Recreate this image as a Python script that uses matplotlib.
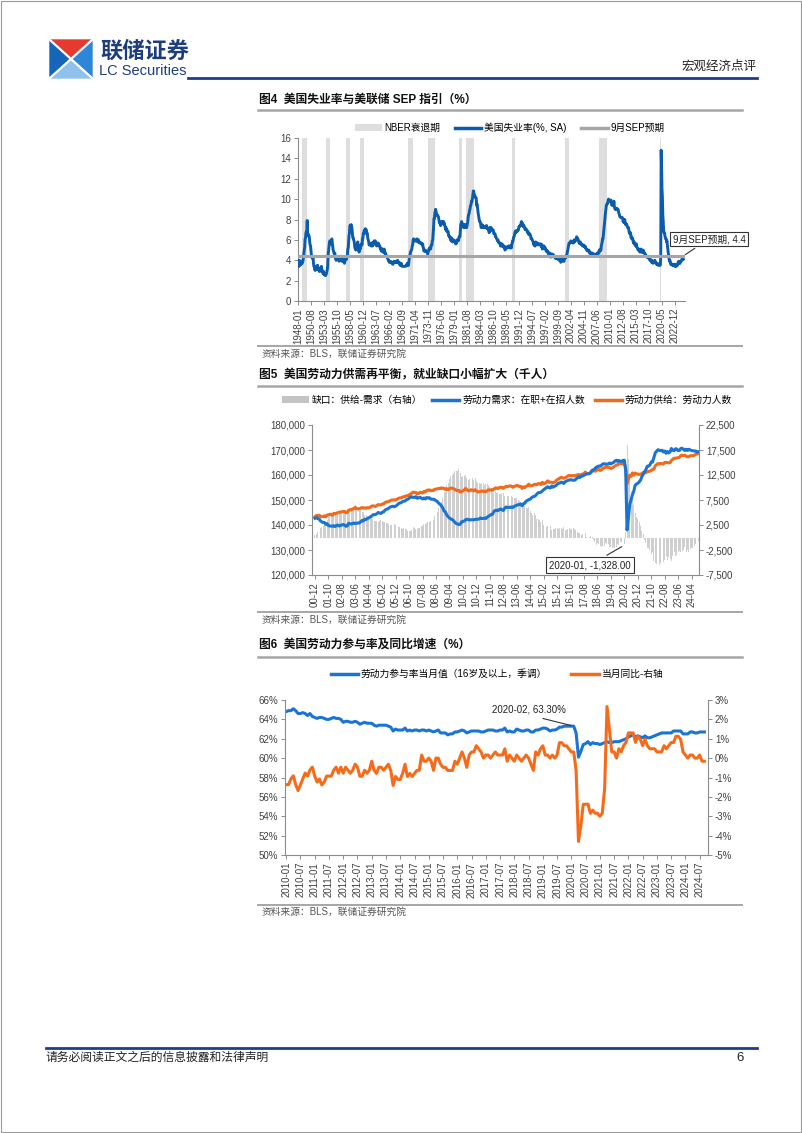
import matplotlib
matplotlib.use("Agg")
import matplotlib.pyplot as plt
from matplotlib.patches import Polygon, Patch, Rectangle
from matplotlib.lines import Line2D
from matplotlib.ticker import FuncFormatter
import numpy as np

plt.rcParams['font.family'] = ['Liberation Sans', 'Noto Sans CJK SC', 'DejaVu Sans']
plt.rcParams['axes.unicode_minus'] = False

# ---------------- data ----------------
# 图4: US unemployment rate, monthly, 1948-01 .. 2024-09 (%)
unrate_start = "1948-01"
unemployment_rate = [
    3.4, 3.8, 4.0, 3.9, 3.5, 3.6, 3.6, 3.9, 3.8, 3.7, 3.8, 4.0,   # 1948
    4.3, 4.7, 5.0, 5.3, 6.1, 6.2, 6.7, 6.8, 6.6, 7.9, 6.4, 6.6,   # 1949
    6.5, 6.4, 6.3, 5.8, 5.5, 5.4, 5.0, 4.5, 4.4, 4.2, 4.2, 4.3,   # 1950
    3.7, 3.4, 3.4, 3.1, 3.0, 3.2, 3.1, 3.1, 3.3, 3.5, 3.5, 3.1,   # 1951
    3.2, 3.1, 2.9, 2.9, 3.0, 3.0, 3.2, 3.4, 3.1, 3.0, 2.8, 2.7,   # 1952
    2.9, 2.6, 2.6, 2.7, 2.5, 2.5, 2.6, 2.7, 2.9, 3.1, 3.5, 4.5,   # 1953
    4.9, 5.2, 5.7, 5.9, 5.9, 5.6, 5.8, 6.0, 6.1, 5.7, 5.3, 5.0,   # 1954
    4.9, 4.7, 4.6, 4.7, 4.3, 4.2, 4.0, 4.2, 4.1, 4.3, 4.2, 4.2,   # 1955
    4.0, 3.9, 4.2, 4.0, 4.3, 4.3, 4.4, 4.1, 3.9, 3.9, 4.3, 4.2,   # 1956
    4.2, 3.9, 3.7, 3.9, 4.1, 4.3, 4.2, 4.1, 4.4, 4.5, 5.1, 5.2,   # 1957
    5.8, 6.4, 6.7, 7.4, 7.4, 7.3, 7.5, 7.4, 7.1, 6.7, 6.2, 6.2,   # 1958
    6.0, 5.9, 5.6, 5.2, 5.1, 5.0, 5.1, 5.2, 5.5, 5.7, 5.8, 5.3,   # 1959
    5.2, 4.8, 5.4, 5.2, 5.1, 5.4, 5.5, 5.6, 5.5, 6.1, 6.1, 6.6,   # 1960
    6.6, 6.9, 6.9, 7.0, 7.1, 6.9, 7.0, 6.6, 6.7, 6.5, 6.1, 6.0,   # 1961
    5.8, 5.5, 5.6, 5.6, 5.5, 5.5, 5.4, 5.7, 5.6, 5.4, 5.7, 5.5,   # 1962
    5.7, 5.9, 5.7, 5.7, 5.9, 5.6, 5.6, 5.4, 5.5, 5.5, 5.7, 5.5,   # 1963
    5.6, 5.4, 5.4, 5.3, 5.1, 5.2, 4.9, 5.0, 5.1, 5.1, 4.8, 5.0,   # 1964
    4.9, 5.1, 4.7, 4.8, 4.6, 4.6, 4.4, 4.4, 4.3, 4.2, 4.1, 4.0,   # 1965
    4.0, 3.8, 3.8, 3.8, 3.9, 3.8, 3.8, 3.8, 3.7, 3.7, 3.6, 3.8,   # 1966
    3.9, 3.8, 3.8, 3.8, 3.8, 3.9, 3.8, 3.8, 3.8, 4.0, 3.9, 3.8,   # 1967
    3.7, 3.8, 3.7, 3.5, 3.5, 3.7, 3.7, 3.5, 3.4, 3.4, 3.4, 3.4,   # 1968
    3.4, 3.4, 3.4, 3.4, 3.4, 3.5, 3.5, 3.5, 3.7, 3.7, 3.5, 3.5,   # 1969
    3.9, 4.2, 4.4, 4.6, 4.8, 4.9, 5.0, 5.1, 5.4, 5.5, 5.9, 6.1,   # 1970
    5.9, 5.9, 6.0, 5.9, 5.9, 5.9, 6.0, 6.1, 6.0, 5.8, 6.0, 6.0,   # 1971
    5.8, 5.7, 5.8, 5.7, 5.7, 5.7, 5.6, 5.6, 5.5, 5.6, 5.3, 5.2,   # 1972
    4.9, 5.0, 4.9, 5.0, 4.9, 4.9, 4.8, 4.8, 4.8, 4.6, 4.8, 4.9,   # 1973
    5.1, 5.2, 5.1, 5.1, 5.1, 5.4, 5.5, 5.5, 5.9, 6.0, 6.6, 7.2,   # 1974
    8.1, 8.1, 8.6, 8.8, 9.0, 8.8, 8.6, 8.4, 8.4, 8.4, 8.3, 8.2,   # 1975
    7.9, 7.7, 7.6, 7.7, 7.4, 7.6, 7.8, 7.8, 7.6, 7.7, 7.8, 7.8,   # 1976
    7.5, 7.6, 7.4, 7.2, 7.0, 7.2, 6.9, 7.0, 6.8, 6.8, 6.8, 6.4,   # 1977
    6.4, 6.3, 6.3, 6.1, 6.0, 5.9, 6.2, 5.9, 6.0, 5.8, 5.9, 6.0,   # 1978
    5.9, 5.9, 5.8, 5.8, 5.6, 5.7, 5.7, 6.0, 5.9, 6.0, 5.9, 6.0,   # 1979
    6.3, 6.3, 6.3, 6.9, 7.5, 7.6, 7.8, 7.7, 7.5, 7.5, 7.5, 7.2,   # 1980
    7.5, 7.4, 7.4, 7.2, 7.5, 7.5, 7.2, 7.4, 7.6, 7.9, 8.3, 8.5,   # 1981
    8.6, 8.9, 9.0, 9.3, 9.4, 9.6, 9.8, 9.8, 10.1, 10.4, 10.8, 10.8,  # 1982
    10.4, 10.4, 10.3, 10.2, 10.1, 10.1, 9.4, 9.5, 9.2, 8.8, 8.5, 8.3,  # 1983
    8.0, 7.8, 7.8, 7.7, 7.4, 7.2, 7.5, 7.5, 7.3, 7.4, 7.2, 7.3,   # 1984
    7.3, 7.2, 7.2, 7.3, 7.2, 7.4, 7.4, 7.1, 7.1, 7.1, 7.0, 7.0,   # 1985
    6.7, 7.2, 7.2, 7.1, 7.2, 7.2, 7.0, 6.9, 7.0, 7.0, 6.9, 6.6,   # 1986
    6.6, 6.6, 6.6, 6.3, 6.3, 6.2, 6.1, 6.0, 5.9, 6.0, 5.8, 5.7,   # 1987
    5.7, 5.7, 5.7, 5.4, 5.6, 5.4, 5.4, 5.6, 5.4, 5.4, 5.3, 5.3,   # 1988
    5.4, 5.2, 5.0, 5.2, 5.2, 5.3, 5.2, 5.2, 5.3, 5.3, 5.4, 5.4,   # 1989
    5.4, 5.3, 5.2, 5.4, 5.4, 5.2, 5.5, 5.7, 5.9, 5.9, 6.2, 6.3,   # 1990
    6.4, 6.6, 6.8, 6.7, 6.9, 6.9, 6.8, 6.9, 6.9, 7.0, 7.0, 7.3,   # 1991
    7.3, 7.4, 7.4, 7.4, 7.6, 7.8, 7.7, 7.6, 7.6, 7.3, 7.4, 7.4,   # 1992
    7.3, 7.1, 7.0, 7.1, 7.1, 7.0, 6.9, 6.8, 6.7, 6.8, 6.6, 6.5,   # 1993
    6.6, 6.6, 6.5, 6.4, 6.1, 6.1, 6.1, 6.0, 5.9, 5.8, 5.6, 5.5,   # 1994
    5.6, 5.4, 5.4, 5.8, 5.6, 5.6, 5.7, 5.7, 5.6, 5.5, 5.6, 5.6,   # 1995
    5.6, 5.5, 5.5, 5.6, 5.6, 5.3, 5.5, 5.1, 5.2, 5.2, 5.4, 5.4,   # 1996
    5.3, 5.2, 5.2, 5.1, 4.9, 5.0, 4.9, 4.8, 4.9, 4.7, 4.6, 4.7,   # 1997
    4.6, 4.6, 4.7, 4.3, 4.4, 4.5, 4.5, 4.5, 4.6, 4.5, 4.4, 4.4,   # 1998
    4.3, 4.4, 4.2, 4.3, 4.2, 4.3, 4.3, 4.2, 4.2, 4.1, 4.1, 4.0,   # 1999
    4.0, 4.1, 4.0, 3.8, 4.0, 4.0, 4.0, 4.1, 3.9, 3.9, 3.9, 3.9,   # 2000
    4.2, 4.2, 4.3, 4.4, 4.3, 4.5, 4.6, 4.9, 5.0, 5.3, 5.5, 5.7,   # 2001
    5.7, 5.7, 5.7, 5.9, 5.8, 5.8, 5.8, 5.7, 5.7, 5.7, 5.9, 6.0,   # 2002
    5.8, 5.9, 5.9, 6.0, 6.1, 6.3, 6.2, 6.1, 6.1, 6.0, 5.8, 5.7,   # 2003
    5.7, 5.6, 5.8, 5.6, 5.6, 5.6, 5.5, 5.4, 5.4, 5.5, 5.4, 5.4,   # 2004
    5.3, 5.4, 5.2, 5.2, 5.1, 5.0, 5.0, 4.9, 5.0, 5.0, 5.0, 4.9,   # 2005
    4.7, 4.8, 4.7, 4.7, 4.6, 4.6, 4.7, 4.7, 4.5, 4.4, 4.5, 4.4,   # 2006
    4.6, 4.5, 4.4, 4.5, 4.4, 4.6, 4.7, 4.6, 4.7, 4.7, 4.7, 5.0,   # 2007
    5.0, 4.9, 5.1, 5.0, 5.4, 5.6, 5.8, 6.1, 6.1, 6.5, 6.8, 7.3,   # 2008
    7.8, 8.3, 8.7, 9.0, 9.4, 9.5, 9.5, 9.6, 9.8, 10.0, 9.9, 9.9,  # 2009
    9.8, 9.8, 9.9, 9.9, 9.6, 9.4, 9.4, 9.5, 9.5, 9.4, 9.8, 9.3,   # 2010
    9.1, 9.0, 9.0, 9.1, 9.0, 9.1, 9.0, 9.0, 9.0, 8.8, 8.6, 8.5,   # 2011
    8.3, 8.3, 8.2, 8.2, 8.2, 8.2, 8.2, 8.1, 7.8, 7.8, 7.7, 7.9,   # 2012
    8.0, 7.7, 7.5, 7.6, 7.5, 7.5, 7.3, 7.2, 7.2, 7.2, 6.9, 6.7,   # 2013
    6.6, 6.7, 6.7, 6.2, 6.3, 6.1, 6.2, 6.1, 5.9, 5.7, 5.8, 5.6,   # 2014
    5.7, 5.5, 5.4, 5.4, 5.6, 5.3, 5.2, 5.1, 5.0, 5.0, 5.1, 5.0,   # 2015
    4.8, 4.9, 5.0, 5.1, 4.8, 4.9, 4.8, 4.9, 5.0, 4.9, 4.7, 4.7,   # 2016
    4.7, 4.6, 4.4, 4.4, 4.4, 4.3, 4.3, 4.4, 4.3, 4.2, 4.2, 4.1,   # 2017
    4.0, 4.1, 4.0, 4.0, 3.8, 4.0, 3.8, 3.8, 3.7, 3.8, 3.8, 3.9,   # 2018
    4.0, 3.8, 3.8, 3.7, 3.6, 3.6, 3.7, 3.6, 3.5, 3.6, 3.6, 3.6,   # 2019
    3.5, 3.5, 4.4, 14.8, 13.2, 11.0, 10.2, 8.4, 7.8, 6.8, 6.7, 6.7,  # 2020
    6.4, 6.2, 6.1, 6.1, 5.8, 5.9, 5.4, 5.1, 4.7, 4.5, 4.1, 3.9,   # 2021
    4.0, 3.8, 3.6, 3.7, 3.6, 3.6, 3.5, 3.6, 3.5, 3.6, 3.6, 3.5,   # 2022
    3.4, 3.6, 3.5, 3.4, 3.6, 3.6, 3.5, 3.7, 3.8, 3.9, 3.7, 3.8,   # 2023
    3.7, 3.9, 3.9, 3.9, 4.0, 4.1, 4.3, 4.2, 4.1,                  # 2024
]
sep_projection = 4.4
nber_recessions = [
    ("1948-11", "1949-10"), ("1953-07", "1954-05"), ("1957-08", "1958-04"),
    ("1960-04", "1961-02"), ("1969-12", "1970-11"), ("1973-11", "1975-03"),
    ("1980-01", "1980-07"), ("1981-07", "1982-11"), ("1990-07", "1991-03"),
    ("2001-03", "2001-11"), ("2007-12", "2009-06"), ("2020-02", "2020-04"),
]

# 图5: labour supply (labour force) and demand (employed + openings), thousands, 2000-12 .. 2024-09
lab_start = "2000-12"
labor_supply = [
    143248,
    143800, 143701, 143924, 143569, 143318, 143357, 143654, 143284, 143989, 144086, 144240, 144305,
    143883, 144653, 144481, 144725, 144938, 145081, 145139, 145237, 145459, 145364, 144919, 145005,
    145937, 146100, 146022, 146474, 146500, 147056, 146485, 146445, 146530, 146716, 147000, 146729,
    146842, 146709, 146944, 146850, 147065, 147460, 147692, 147564, 147415, 147793, 148162, 148059,
    148029, 148364, 148391, 148926, 149261, 149238, 149432, 149779, 149954, 150001, 150065, 150030,
    150214, 150641, 150813, 150881, 151069, 151354, 151377, 151716, 151662, 152041, 152406, 152732,
    153144, 152983, 153051, 152435, 152670, 153041, 153054, 152749, 153414, 153183, 153835, 153918,
    154063, 153653, 153908, 153769, 154303, 154313, 154469, 154641, 154570, 154876, 154639, 154655,
    154210, 154538, 154133, 154509, 154747, 154716, 154502, 154307, 153827, 153784, 153878, 153111,
    153404, 153720, 153964, 154642, 154106, 153631, 153706, 154087, 153971, 153631, 154127, 153639,
    153198, 153280, 153403, 153566, 153526, 153379, 153309, 153724, 154059, 153940, 154072, 153927,
    154328, 154826, 154811, 154565, 154946, 155134, 154970, 154669, 155018, 155507, 155279, 155485,
    155699, 155511, 155099, 155359, 155609, 155822, 155693, 155435, 155473, 154625, 155284, 154937,
    155460, 155724, 156316, 155664, 155755, 155822, 156273, 156233, 156134, 156571, 156515, 156197,
    157030, 156644, 156643, 157060, 157651, 157062, 157140, 157101, 156849, 157107, 157502, 158080,
    158371, 158705, 159079, 158891, 158700, 158899, 159150, 159582, 159810, 159768, 159629, 159779,
    159693, 159854, 160036, 160169, 159910, 160124, 160383, 160616, 161190, 160436, 160626, 160636,
    161123, 161900, 161646, 161551, 161667, 162129, 162209, 161802, 162055, 162694, 162821, 163240,
    163083, 163022, 162983, 162555, 162789, 163163, 163560, 163962, 164033, 164399, 164578, 164455,
    164500, 164546, 162913, 156481, 158227, 159932, 159479, 160838, 159926, 160797, 160447, 160357,
    160249, 160274, 160592, 160992, 160839, 160976, 161309, 161426, 161529, 161832, 162279, 162345,
    163720, 164113, 164579, 164400, 164671, 164529, 164373, 165034, 165017, 164976, 164882, 164931,
    165832, 166251, 166703, 166714, 166807, 166951, 167082, 167782, 167968, 167714, 167902, 167469,
    167276, 167334, 167736, 167725, 167678, 167916, 168251, 168483, 168590,
]
labor_demand = [
    142700,
    143000, 142600, 142500, 141700, 141300, 141000, 141000, 140300, 140500, 139800, 139600, 139600,
    139500, 139700, 139400, 139800, 140000, 139600, 139800, 140000, 140200, 139900, 139500, 139600,
    140700, 140500, 140400, 140600, 140800, 140600, 140700, 140800, 140800, 141300, 141800, 141600,
    142300, 142200, 142600, 142800, 143200, 143500, 144000, 144200, 144200, 144500, 145000, 144800,
    144600, 145100, 145200, 145900, 146300, 146400, 146800, 147200, 147400, 147500, 147300, 147600,
    147900, 148500, 148800, 148900, 149300, 149500, 149600, 150100, 150300, 150700, 151100, 151300,
    151000, 151100, 151300, 150700, 150800, 151100, 150800, 150400, 150800, 150400, 151000, 150800,
    150900, 150400, 150300, 150300, 150100, 149700, 149400, 148700, 148300, 147700, 146800, 145600,
    145200, 144000, 143300, 142800, 142400, 142200, 141700, 141100, 140600, 140400, 140200, 140300,
    141300, 141400, 141600, 142100, 142300, 142200, 142000, 142100, 142100, 142100, 142200, 142300,
    142300, 142400, 142800, 142600, 142600, 142800, 142600, 143100, 143500, 143800, 144200, 144300,
    145400, 145800, 145900, 145700, 146200, 146400, 146100, 145800, 146700, 147200, 147000, 147100,
    147000, 147200, 147000, 147400, 147700, 147900, 148100, 148200, 148400, 147700, 148500, 148700,
    149600, 149800, 150200, 150300, 150900, 151300, 151400, 151800, 152400, 152900, 153000, 153100,
    153600, 154100, 154500, 154900, 155300, 155000, 154800, 155600, 155100, 155500, 155700, 156200,
    156700, 156800, 157100, 157100, 156600, 157300, 157600, 157800, 158000, 158100, 158000, 157900,
    157900, 158300, 158900, 159200, 159000, 159600, 159600, 159900, 160200, 160400, 160500, 160500,
    160900, 161700, 162100, 162400, 163100, 163300, 163600, 163500, 163900, 164400, 164500, 164400,
    164300, 164400, 164800, 164400, 164800, 165000, 165600, 165900, 165400, 165800, 165500, 165400,
    165828, 165900, 161800, 138000, 142600, 148200, 150200, 152100, 153500, 155800, 156400, 156700,
    157200, 157900, 159300, 160300, 161300, 162100, 163500, 163600, 164000, 165200, 165200, 167000,
    168900, 169500, 170100, 169900, 169700, 169900, 169200, 169600, 168700, 169400, 168800, 169300,
    170600, 169900, 169700, 170500, 170400, 169800, 169800, 170600, 170700, 170200, 169800, 170300,
    169800, 170300, 170000, 169800, 169700, 169600, 169600, 169200, 169300,
]

# 图6: labour force participation rate (16+, SA), %, 2010-01 .. 2024-09; 2009 as year-ago base
lfpr_start = "2010-01"
participation_2009 = [65.7, 65.8, 65.6, 65.7, 65.8, 65.7, 65.5, 65.4, 65.1, 65.0, 65.0, 64.6]
participation = [
    64.8, 64.9, 64.9, 65.1, 64.9, 64.6, 64.6, 64.7, 64.6, 64.4, 64.6, 64.3,   # 2010
    64.2, 64.1, 64.2, 64.2, 64.1, 64.0, 64.0, 64.1, 64.2, 64.1, 64.1, 64.0,   # 2011
    63.7, 63.8, 63.8, 63.7, 63.7, 63.8, 63.7, 63.5, 63.6, 63.7, 63.6, 63.6,   # 2012
    63.6, 63.4, 63.3, 63.4, 63.4, 63.4, 63.4, 63.3, 63.2, 62.8, 63.0, 62.9,   # 2013
    62.9, 62.9, 63.1, 62.8, 62.9, 62.8, 62.9, 62.9, 62.8, 62.9, 62.9, 62.8,   # 2014
    62.9, 62.8, 62.7, 62.8, 62.9, 62.6, 62.6, 62.6, 62.4, 62.5, 62.5, 62.7,   # 2015
    62.7, 62.8, 62.9, 62.8, 62.6, 62.7, 62.8, 62.8, 62.8, 62.8, 62.7, 62.7,   # 2016
    62.8, 62.9, 62.9, 62.9, 62.8, 62.8, 62.9, 62.9, 63.1, 62.7, 62.8, 62.7,   # 2017
    62.7, 63.0, 62.9, 62.8, 62.8, 62.9, 62.9, 62.7, 62.7, 62.9, 62.9, 63.0,   # 2018
    63.1, 63.1, 63.0, 62.8, 62.9, 62.9, 63.0, 63.2, 63.2, 63.3, 63.3, 63.3,   # 2019
    63.3, 63.3, 62.6, 60.1, 60.7, 61.4, 61.5, 61.7, 61.4, 61.6, 61.5, 61.5,   # 2020
    61.4, 61.5, 61.6, 61.7, 61.6, 61.6, 61.7, 61.7, 61.7, 61.8, 61.9, 62.0,   # 2021
    62.2, 62.3, 62.4, 62.2, 62.3, 62.2, 62.1, 62.3, 62.1, 62.1, 62.2, 62.3,   # 2022
    62.4, 62.5, 62.6, 62.6, 62.6, 62.6, 62.6, 62.8, 62.8, 62.8, 62.8, 62.5,   # 2023
    62.5, 62.5, 62.7, 62.7, 62.6, 62.6, 62.7, 62.7, 62.7,                     # 2024
]

# ---------------- helpers ----------------
W, H = 802, 1133
TICK_C = '#404040'
SPINE_C = '#8c8c8c'


def month_offset(s, start):
    y, m = map(int, s.split('-'))
    y0, m0 = map(int, start.split('-'))
    return (y - y0) * 12 + (m - m0)


def month_labels(start, n, short=False):
    y0, m0 = map(int, start.split('-'))
    out = []
    for i in range(n):
        y = y0 + (m0 - 1 + i) // 12
        m = (m0 - 1 + i) % 12 + 1
        out.append(f"{y % 100:02d}-{m:02d}" if short else f"{y}-{m:02d}")
    return out


def px_axes(l, t, r, b):
    return fig.add_axes([l / W, 1 - b / H, (r - l) / W, (b - t) / H])


def style(ax, spines=('left', 'bottom')):
    for s in ax.spines:
        ax.spines[s].set_visible(s in spines)
        ax.spines[s].set_color(SPINE_C)
        ax.spines[s].set_linewidth(0.8)
    ax.tick_params(direction='out', length=3, width=0.7, color=SPINE_C,
                   labelsize=7, labelcolor=TICK_C, pad=2)


fig = plt.figure(figsize=(W / 100, H / 100), dpi=100)

# page layer in pixel coordinates
page = fig.add_axes([0, 0, 1, 1])
page.set_xlim(0, W)
page.set_ylim(H, 0)
page.axis('off')
page.add_patch(Rectangle((0.5, 0.5), W - 1.5, H - 1.5, fill=False, ec='#9a9a9a', lw=0.8))

# logo
cx, cy = 71, 59
page.add_patch(Polygon([(50, 40), (92, 40), (cx, cy)], color='#e63a2e'))
page.add_patch(Polygon([(50, 40), (cx, cy), (50, 78)], color='#1565b8'))
page.add_patch(Polygon([(92, 40), (92, 78), (cx, cy)], color='#2e86d6'))
page.add_patch(Polygon([(50, 78), (92, 78), (cx, cy)], color='#8fc1ea'))
page.plot([50, 92], [40, 78], color='white', lw=1.6)
page.plot([92, 50], [40, 78], color='white', lw=1.6)
page.text(100, 52, '联储证券', fontsize=16, fontweight='bold', color='#1d3d7d',
          ha='left', va='center')
page.text(99, 71, 'LC Securities', fontsize=10.5, color='#1d3d7d', ha='left', va='center',
          family=['Liberation Sans Narrow', 'Liberation Sans'])
page.plot([188, 757], [77.5, 77.5], color='#1f3d8c', lw=2)
page.text(757, 67, '宏观经济点评', fontsize=9, color='#222222', ha='right', va='center')

# footer
page.plot([46, 757], [1048, 1048], color='#1f3d8c', lw=2)
page.text(46, 1058, '请务必阅读正文之后的信息披露和法律声明', fontsize=8.5, color='#222222',
          ha='left', va='center')
page.text(740, 1058, '6', fontsize=9.5, color='#222222', ha='center', va='center')

# titles, separators, sources
for ty, ly, title in [(100, 110, '图4  美国失业率与美联储 SEP 指引（%）'),
                      (375, 386, '图5  美国劳动力供需再平衡，就业缺口小幅扩大（千人）'),
                      (645, 657, '图6  美国劳动力参与率及同比增速（%）')]:
    page.text(259, ty, title, fontsize=8.5, fontweight='bold', color='#111111',
              ha='left', va='center')
    page.plot([258, 742], [ly, ly], color='#a6a6a6', lw=1.8)
for ly, sy in [(346, 354), (612, 620), (905, 912)]:
    page.plot([258, 742], [ly, ly], color='#a6a6a6', lw=1.4)
    page.text(262, sy, '资料来源：BLS，联储证券研究院', fontsize=7, color='#555555',
              ha='left', va='center')

# ---------------- chart 1 ----------------
ur = np.array(unemployment_rate)
x1 = np.arange(len(ur))
rec = np.zeros(len(ur))
for a, b in nber_recessions:
    rec[month_offset(a, unrate_start):month_offset(b, unrate_start) + 1] = 16

ax1 = px_axes(298, 138, 685, 301)
ax1.bar(x1, rec, width=1.0, color='#dedede', linewidth=0, zorder=1)
ax1.plot(x1, ur, color='#0b5cad', lw=2.1, zorder=3)
ax1.plot([x1[0] - 1, x1[-1] + 3], [sep_projection] * 2, color='#a6a6a6', lw=2.2, zorder=4)
ax1.set_xlim(-1, 924)
ax1.set_ylim(0, 16)
ax1.set_yticks(range(0, 17, 2))
lab1 = month_labels(unrate_start, len(ur))
tk1 = list(range(0, len(ur), 31))
ax1.set_xticks(tk1)
ax1.set_xticklabels([lab1[i] for i in tk1], rotation=90)
style(ax1)
ax1.annotate(f'9月SEP预期, {sep_projection}', xy=(x1[-2], sep_projection), xytext=(709, 239),
             textcoords=page.transData, fontsize=7, ha='center', va='center', color='#222222',
             bbox=dict(boxstyle='square,pad=0.25', fc='white', ec='#333333', lw=0.8),
             arrowprops=dict(arrowstyle='-', color='#333333', lw=0.8), annotation_clip=False)
fig.legend(handles=[Patch(fc='#dedede', ec='none'),
                    Line2D([], [], color='#0b5cad', lw=2.5),
                    Line2D([], [], color='#a6a6a6', lw=2.5)],
           labels=['NBER衰退期', '美国失业率(%, SA)', '9月SEP预期'],
           loc='center', bbox_to_anchor=(510 / W, 1 - 128 / H), ncol=3, frameon=False,
           fontsize=7, handlelength=2.7, handletextpad=0.3, columnspacing=1.5)

# ---------------- chart 2 ----------------
sup = np.array(labor_supply, float)
dem = np.array(labor_demand, float)
gap = sup - dem
x2 = np.arange(len(sup))

ax2b = px_axes(312, 425, 699, 575)
ax2b.bar(x2, gap, width=0.7, color='#cfcfcf', linewidth=0)
ax2l = ax2b.twinx()
ax2l.plot(x2, sup, color='#f26a1b', lw=2.2)
ax2l.plot(x2, dem, color='#1a75d2', lw=2.2)
ax2b.yaxis.tick_right()
ax2l.yaxis.tick_left()
ax2b.set_ylim(-7500, 22500)
ax2b.set_yticks(range(-7500, 22501, 5000))
ax2l.set_ylim(120000, 180000)
ax2l.set_yticks(range(120000, 180001, 10000))
comma = FuncFormatter(lambda v, p: f'{v:,.0f}')
ax2b.yaxis.set_major_formatter(comma)
ax2l.yaxis.set_major_formatter(comma)
ax2b.set_xlim(-2.2, 285.5)
lab2 = month_labels(lab_start, len(sup), short=True)
tk2 = list(range(0, len(sup), 10))
ax2b.set_xticks(tk2)
ax2b.set_xticklabels([lab2[i] for i in tk2], rotation=90)
style(ax2b, spines=('left', 'right', 'bottom'))
style(ax2l, spines=())
i20 = month_offset('2020-01', lab_start)
ax2b.annotate(f'2020-01, {gap[i20]:,.2f}', xy=(i20, gap[i20]), xytext=(590, 565),
              textcoords=page.transData, fontsize=7, ha='center', va='center', color='#222222',
              bbox=dict(boxstyle='square,pad=0.3', fc='white', ec='#333333', lw=0.8),
              arrowprops=dict(arrowstyle='-', color='#333333', lw=0.8,
                              connectionstyle='angle,angleA=30,angleB=90,rad=0'),
              annotation_clip=False)
fig.legend(handles=[Patch(fc='#c4c4c4', ec='none'),
                    Line2D([], [], color='#1a75d2', lw=2.5),
                    Line2D([], [], color='#f26a1b', lw=2.5)],
           labels=['缺口：供给-需求（右轴）', '劳动力需求：在职+在招人数', '劳动力供给：劳动力人数'],
           loc='center', bbox_to_anchor=(507 / W, 1 - 400 / H), ncol=3, frameon=False,
           fontsize=7, handlelength=2.8, handletextpad=0.3, columnspacing=1.0)

# ---------------- chart 3 ----------------
lfpr = np.array(participation)
base = np.concatenate([participation_2009, participation])
yoy = (base[12:] / base[:-12] - 1) * 100
x3 = np.arange(len(lfpr))

ax3 = px_axes(285, 700, 708, 855)
ax3.plot(x3, lfpr, color='#1a75d2', lw=2.2)
ax3r = ax3.twinx()
ax3r.plot(x3, yoy, color='#f66b1a', lw=2.2)
ax3.set_ylim(50, 66)
ax3.set_yticks(range(50, 67, 2))
ax3.yaxis.set_major_formatter(FuncFormatter(lambda v, p: f'{v:.0f}%'))
ax3r.set_ylim(-5, 3)
ax3r.set_yticks(range(-5, 4))
ax3r.yaxis.set_major_formatter(FuncFormatter(lambda v, p: f'{v:.0f}%'))
ax3.set_xlim(-0.5, 177.5)
lab3 = month_labels(lfpr_start, len(lfpr))
tk3 = list(range(0, len(lfpr), 6))
ax3.set_xticks(tk3)
ax3.set_xticklabels([lab3[i] for i in tk3], rotation=90)
style(ax3, spines=('left', 'right', 'bottom'))
style(ax3r, spines=())
i3 = month_offset('2020-02', lfpr_start)
ax3.annotate(f'2020-02, {lfpr[i3]:.2f}%', xy=(i3, lfpr[i3]), xytext=(529, 710),
             textcoords=page.transData, fontsize=7, ha='center', va='center', color='#222222',
             arrowprops=dict(arrowstyle='-', color='#333333', lw=0.8, relpos=(0.5, 0)),
             annotation_clip=False)
fig.legend(handles=[Line2D([], [], color='#1a75d2', lw=2.5),
                    Line2D([], [], color='#f66b1a', lw=2.5)],
           labels=['劳动力参与率当月值（16岁及以上，季调）', '当月同比-右轴'],
           loc='center', bbox_to_anchor=(497 / W, 1 - 674 / H), ncol=2, frameon=False,
           fontsize=7, handlelength=2.8, handletextpad=0.3, columnspacing=2.5)

fig.savefig('out.png', dpi=100)
